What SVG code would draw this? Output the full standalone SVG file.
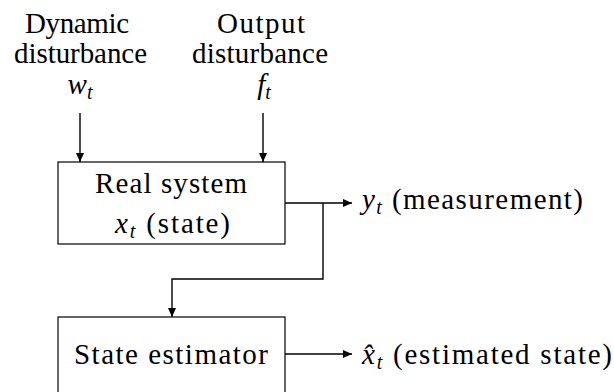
<svg xmlns="http://www.w3.org/2000/svg" width="614" height="392" viewBox="0 0 614 392">
<style>
  .t { font-family: 'Liberation Serif', 'DejaVu Serif', serif; font-size: 29px; fill: #000; }
  .c { text-anchor: middle; }
  .i { font-style: italic; }
  .sub { font-style: italic; font-size: 20px; }
  .box { fill: #fff; stroke: #000; stroke-width: 1.2; }
  .wire { fill: none; stroke: #000; stroke-width: 1.4; }
</style>
<defs>
  <marker id="arr" markerUnits="userSpaceOnUse" markerWidth="10" markerHeight="10" refX="9" refY="4.5" orient="auto">
    <path d="M0,0.5 L9,4.5 L0,8.5 z" fill="#000"/>
  </marker>
</defs>
<rect width="614" height="392" fill="#fff"/>
<g id="dyn-dist">
  <text class="t c" x="77" y="33" textLength="104" lengthAdjust="spacing">Dynamic</text>
  <text class="t c" x="80.5" y="63" textLength="133" lengthAdjust="spacing">disturbance</text>
  <text class="t c" x="80" y="94"><tspan class="i">w</tspan><tspan class="sub" dy="5">t</tspan></text>
</g>
<g id="out-dist">
  <text class="t c" x="261" y="33" textLength="88" lengthAdjust="spacing">Output</text>
  <text class="t c" x="260" y="63" textLength="136" lengthAdjust="spacing">disturbance</text>
  <text class="t c" x="264" y="94"><tspan class="i">f</tspan><tspan class="sub" dy="5">t</tspan></text>
</g>
<g id="real-system">
  <rect class="box" x="58" y="162" width="227" height="82"/>
  <text class="t c" x="171" y="193" textLength="152" lengthAdjust="spacing">Real system</text>
  <text class="t" x="115" y="233" textLength="115" lengthAdjust="spacing"><tspan class="i">x</tspan><tspan class="sub" dy="5">t</tspan><tspan dy="-5"> (state)</tspan></text>
</g>
<g id="measurement">
  <text class="t" x="362" y="209" textLength="221" lengthAdjust="spacing"><tspan class="i">y</tspan><tspan class="sub" dy="5">t</tspan><tspan dy="-5"> (measurement)</tspan></text>
</g>
<g id="state-estimator">
  <rect class="box" x="58" y="317" width="227" height="82"/>
  <text class="t c" x="171" y="364" textLength="194" lengthAdjust="spacing">State estimator</text>
</g>
<g id="estimated-state">
  <text class="t" x="362" y="364" textLength="250" lengthAdjust="spacing"><tspan class="i">x&#x302;</tspan><tspan class="sub" dy="5">t</tspan><tspan dy="-5"> (estimated state)</tspan></text>
</g>
<g id="connectors">
  <line class="wire" x1="80" y1="113" x2="80" y2="162" marker-end="url(#arr)"/>
  <line class="wire" x1="263" y1="113" x2="263" y2="162" marker-end="url(#arr)"/>
  <line class="wire" x1="285" y1="203" x2="352" y2="203" marker-end="url(#arr)"/>
  <polyline class="wire" points="323,203 323,279 172,279 172,317" marker-end="url(#arr)"/>
  <line class="wire" x1="285" y1="354" x2="352" y2="354" marker-end="url(#arr)"/>
</g>
</svg>
